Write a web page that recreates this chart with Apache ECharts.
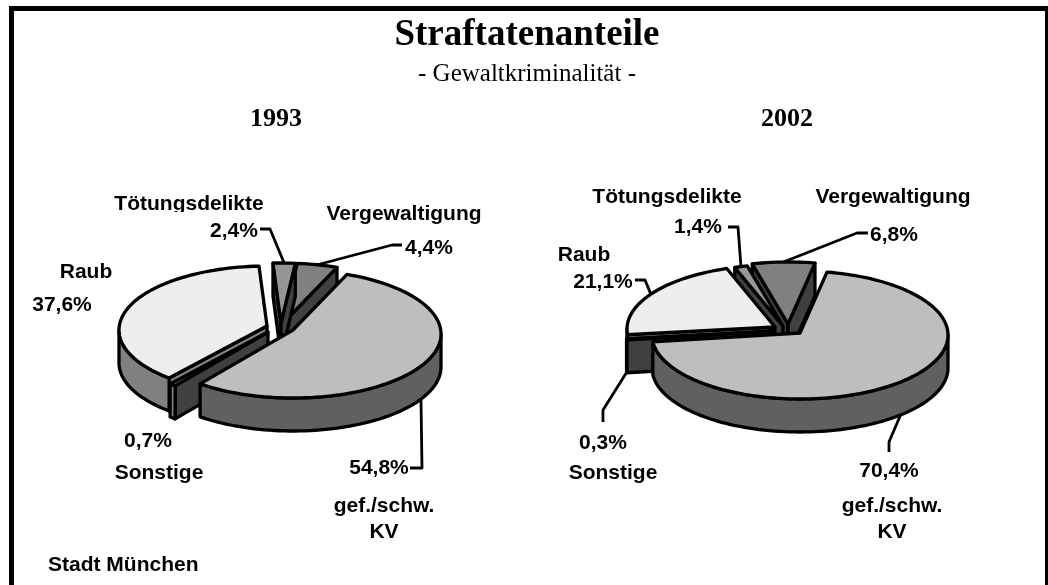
<!DOCTYPE html>
<html>
<head>
<meta charset="utf-8">
<style>html,body{margin:0;padding:0;background:#fff}#c{width:1048px;height:585px}</style>
<script src="https://cdn.jsdelivr.net/npm/echarts@6/dist/echarts.min.js"></script>
</head>
<body>
<div id="c"></div>
<script>
// ---- data ----
const categories = ['gef./schw.\nKV', 'Sonstige', 'Raub', 'Tötungsdelikte', 'Vergewaltigung'];
const values1993 = [54.8, 0.7, 37.6, 2.4, 4.4];
const values2002 = [70.4, 0.3, 21.1, 1.4, 6.8];
const years = ['1993', '2002'];

// ---- styles ----
const topColors  = ['#bebebe', '#808080', '#eeeeee', '#969696', '#808080'];
const sideColors = ['#606060', '#808080', '#808080', '#404040', '#404040'];
const faceColors = ['#606060', '#404040', '#808080', '#404040', '#404040'];
const paintOrder = [4, 3, 2, 1, 0];
const SANS = '"Liberation Sans", Arial, sans-serif';
const SERIF = '"Liberation Serif", "Times New Roman", serif';
const LW = 3.3;

// ---- layout: pie projection + exploded centres + label placement ----
const RX = 148, RY = 64, DEPTH = 33;
const layout1993 = {
  start: -68.6, apexDy: -4,
  centres: [[293, 334], [268, 336], [267, 330], [281, 327], [283, 327]],
  names: [[384, 519], [159, 473], [86, 272], [189, 204], [404, 214]],
  pcts: [[379, 468], [148, 441], [62, 305], [234, 231], [429, 248]],
  elbows: [[[422, 468], [410, 468]], [], [], [[270, 229], [260, 229]], [[392, 245], [402, 245]]],
  nameClip: { 3: [100, 185, 180, 27] }
};
const layout2002 = {
  start: -79.5, apexDy: -2,
  centres: [[800, 335], [774, 333], [775, 329], [783, 328], [788, 326]],
  names: [[892, 519], [613, 473], [584, 255], [667, 197], [893, 197]],
  pcts: [[889, 471], [603, 443], [603, 282], [698, 227], [894, 235]],
  elbows: [[[889, 442], [889, 452]], [[603, 410], [603, 422]], [[645, 280], [635, 280]], [[738, 227], [728, 227]], [[857, 233], [868, 233]]],
  nameClip: {}
};

function slices(values, lay) {
  const sum = values.reduce((a, b) => a + b, 0);
  let t = lay.start;
  return values.map(v => {
    const a = t, b = t + v / sum * 360;
    t = b;
    return [a, b];
  });
}
function arc(c, a, b, dy) {
  const pts = [], n = Math.max(2, Math.ceil((b - a) / 2));
  for (let i = 0; i <= n; i++) {
    const r = (a + (b - a) * i / n) * Math.PI / 180;
    pts.push([c[0] + RX * Math.cos(r), c[1] + RY * Math.sin(r) + dy]);
  }
  return pts;
}
const poly = (points, fill) => ({
  type: 'polygon', shape: { points },
  style: { fill, stroke: '#000', lineWidth: LW, lineJoin: 'round' }
});

function pieSeries(values, lay) {
  const ang = slices(values, lay);
  return {
    type: 'custom', coordinateSystem: 'none', silent: true, animation: false, z: 2,
    clip: false,
    data: paintOrder.map(i => [i, values[i]]),
    renderItem(params, api) {
      const i = api.value(0), [a, b] = ang[i], c = lay.centres[i];
      const ap = [c[0], c[1] + lay.apexDy], apd = [ap[0], ap[1] + DEPTH];
      const kids = [];
      const ca = Math.cos(a * Math.PI / 180), cb = Math.cos(b * Math.PI / 180);
      const face = t => {
        const p = arc(c, t, t, 0)[0];
        kids.push(poly([p, ap, apd, [p[0], p[1] + DEPTH]], faceColors[i]));
      };
      if (ca < 0) face(a);
      if (cb > 0) face(b);
      const lo = Math.max(a, 0), hi = Math.min(b, 180);
      if (hi > lo) {
        kids.push(poly(arc(c, lo, hi, 0).concat(arc(c, lo, hi, DEPTH).reverse()), sideColors[i]));
      }
      kids.push(poly([ap].concat(arc(c, a, b, 0)), topColors[i]));
      return { type: 'group', children: kids };
    }
  };
}
function labelSeries(values, lay) {
  const ang = slices(values, lay);
  const txt = (text, p) => ({
    type: 'text',
    style: { text, x: p[0], y: p[1], align: 'center', verticalAlign: 'middle',
      font: 'bold 21px ' + SANS, fill: '#000', lineHeight: 26 }
  });
  return {
    type: 'custom', coordinateSystem: 'none', silent: true, animation: false, z: 3,
    clip: false,
    data: values.map((v, i) => [i, v]),
    renderItem(params, api) {
      const i = api.value(0), v = api.value(1), [a, b] = ang[i];
      const mid = (a + b) / 2, kids = [];
      if (lay.elbows[i].length) {
        const p = arc(lay.centres[i], mid, mid, Math.sin(mid * Math.PI / 180) > 0 ? DEPTH : 0)[0];
        kids.push({ type: 'polyline', shape: { points: [p].concat(lay.elbows[i]) },
          style: { fill: 'none', stroke: '#000', lineWidth: 2.8, lineJoin: 'round' } });
      }
      const name = txt(categories[i], lay.names[i]);
      const cl = lay.nameClip[i];
      if (cl) name.clipPath = { type: 'rect', shape: { x: cl[0], y: cl[1], width: cl[2], height: cl[3] } };
      kids.push(name);
      kids.push(txt(v.toFixed(1).replace('.', ',') + '%', lay.pcts[i]));
      return { type: 'group', children: kids };
    }
  };
}

const chart = echarts.init(document.getElementById('c'), null, { renderer: 'canvas', width: 1048, height: 585 });
const serifTitle = (text, x, top, size, weight) => ({
  text, left: x, top, textAlign: 'center',
  textStyle: { fontFamily: SERIF, fontSize: size, fontWeight: weight, color: '#000' }, padding: 0
});
chart.setOption({
  animation: false,
  backgroundColor: '#fff',
  title: [
    serifTitle('Straftatenanteile', 527, 17, 37, 'bold'),
    serifTitle('- Gewaltkriminalität -', 527, 62, 25, 'normal'),
    serifTitle(years[0], 276, 106, 26, 'bold'),
    serifTitle(years[1], 787, 106, 26, 'bold'),
    { text: 'Stadt München', left: 48, top: 555, padding: 0,
      textStyle: { fontFamily: SANS, fontSize: 21, fontWeight: 'bold', color: '#000' } }
  ],
  graphic: [
    { type: 'rect', silent: true, shape: { x: 9, y: 6, width: 1036, height: 5 }, style: { fill: '#000' } },
    { type: 'rect', silent: true, shape: { x: 9, y: 6, width: 5, height: 579 }, style: { fill: '#000' } },
    { type: 'rect', silent: true, shape: { x: 1045, y: 6, width: 3, height: 579 }, style: { fill: '#000' } }
  ],
  series: [
    pieSeries(values1993, layout1993),
    pieSeries(values2002, layout2002),
    labelSeries(values1993, layout1993),
    labelSeries(values2002, layout2002)
  ]
});
</script>
</body>
</html>
